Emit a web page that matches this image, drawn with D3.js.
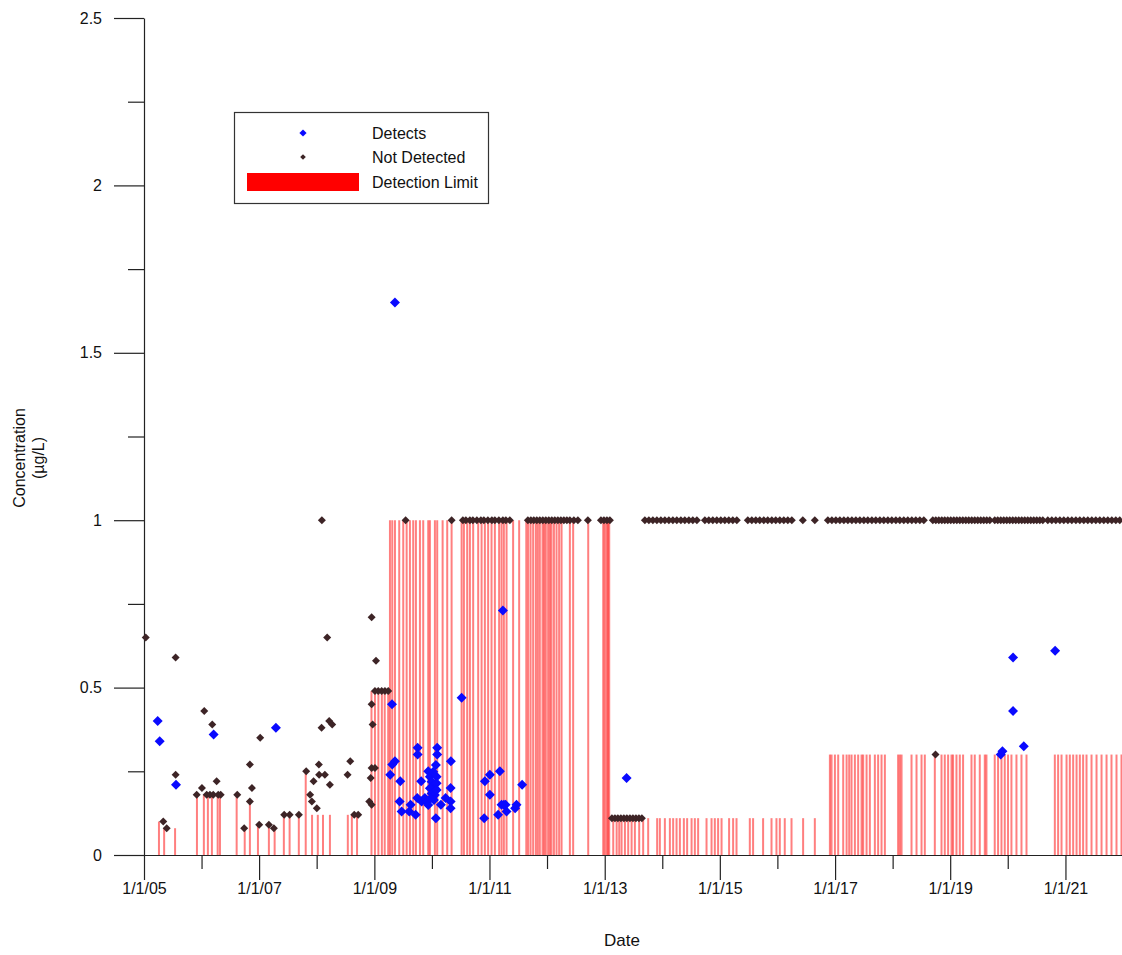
<!DOCTYPE html>
<html><head><meta charset="utf-8">
<script src="https://cdn.jsdelivr.net/npm/d3@7"></script>
<style>
body{margin:0;background:#fff}
svg{display:block}
text{font-family:"Liberation Sans",Arial,Helvetica,sans-serif;fill:#111}
</style></head>
<body><svg id="c" width="1122" height="955"></svg>
<script>
// ---- DATA (decimal year, concentration µg/L) ----
const yTicks = [0, 0.5, 1, 1.5, 2, 2.5];
const xTickYears = [2005, 2007, 2009, 2011, 2013, 2015, 2017, 2019, 2021];
const legendLabels = ["Detects", "Not Detected", "Detection Limit"];

const detects = [
 [2005.238,0.40],[2005.273,0.34],[2005.556,0.21],[2006.210,0.36],[2007.292,0.38],
 [2009.306,0.45],[2009.358,1.65],[2009.752,0.32],[2009.752,0.30],[2010.092,0.32],[2010.092,0.30],
 [2009.358,0.28],[2009.311,0.27],[2009.276,0.24],[2009.450,0.22],[2009.439,0.16],[2009.474,0.13],
 [2009.630,0.15],[2009.606,0.13],[2009.717,0.12],[2009.745,0.17],[2009.814,0.22],[2009.821,0.16],
 [2009.878,0.17],[2009.908,0.16],[2009.936,0.25],
 [2009.965,0.234],[2009.995,0.219],[2010.023,0.209],[2010.052,0.199],[2009.965,0.199],[2009.995,0.184],
 [2010.052,0.179],[2010.082,0.234],[2010.069,0.269],[2010.023,0.249],[2010.082,0.214],[2010.035,0.164],
 [2009.936,0.149],[2009.977,0.169],[2010.082,0.194],
 [2010.069,0.11],[2010.156,0.15],[2010.238,0.17],[2010.330,0.28],[2010.325,0.20],[2010.325,0.16],[2010.325,0.14],
 [2010.516,0.47],[2010.920,0.22],[2011.007,0.24],[2011.007,0.18],[2010.908,0.11],[2011.181,0.25],
 [2011.233,0.73],[2011.151,0.12],[2011.210,0.15],[2011.250,0.15],[2011.297,0.13],[2011.280,0.15],
 [2011.446,0.14],[2011.470,0.15],[2011.568,0.21],
 [2013.380,0.23],
 [2019.878,0.30],[2019.908,0.31],[2020.092,0.59],[2020.092,0.43],[2020.278,0.325],[2020.821,0.61]
];

const notDetected = [
 [2005.030,0.65],[2005.550,0.59],[2005.335,0.10],[2005.394,0.08],[2005.550,0.24],[2005.915,0.18],
 [2006.007,0.20],[2006.047,0.43],[2006.089,0.18],[2006.146,0.18],[2006.203,0.18],[2006.186,0.39],
 [2006.262,0.22],[2006.290,0.18],[2006.332,0.18],[2006.620,0.18],[2006.741,0.08],[2006.840,0.27],
 [2006.875,0.20],[2006.840,0.16],[2007.019,0.35],[2007.002,0.09],[2007.170,0.09],[2007.257,0.08],
 [2007.436,0.12],[2007.530,0.12],[2007.691,0.12],[2007.818,0.25],[2007.887,0.18],[2007.946,0.22],
 [2007.917,0.16],[2008.003,0.14],[2008.038,0.27],[2008.043,0.24],[2008.142,0.24],[2008.085,0.38],
 [2008.182,0.65],[2008.217,0.40],[2008.269,0.39],[2008.229,0.21],[2008.090,1.00],[2008.536,0.24],
 [2008.582,0.28],[2008.651,0.12],[2008.720,0.12],[2008.953,0.71],[2009.028,0.58],
 [2009.010,0.49],[2009.068,0.49],[2009.127,0.49],[2009.184,0.49],[2009.241,0.49],
 [2008.953,0.45],[2008.970,0.39],[2008.953,0.26],[2009.010,0.26],[2008.936,0.23],[2008.911,0.16],[2008.953,0.15],
 [2009.543,1],[2010.342,1],
 [2010.538,1],[2010.590,1],[2010.660,1],[2010.712,1],[2010.781,1],[2010.851,1],[2010.903,1],[2010.972,1],
 [2011.042,1],[2011.094,1],[2011.163,1],[2011.233,1],[2011.285,1],[2011.354,1],
 [2011.667,1],[2011.719,1],[2011.771,1],[2011.823,1],[2011.875,1],[2011.927,1],[2011.979,1],[2012.031,1],
 [2012.083,1],[2012.135,1],[2012.188,1],[2012.240,1],[2012.292,1],[2012.344,1],[2012.396,1],[2012.465,1],
 [2012.535,1],[2012.708,1],[2012.934,1],[2012.986,1],[2013.038,1],[2013.090,1],
 [2013.125,0.11],[2013.177,0.11],[2013.229,0.11],[2013.281,0.11],[2013.333,0.11],[2013.385,0.11],
 [2013.438,0.11],[2013.490,0.11],[2013.542,0.11],[2013.594,0.11],[2013.646,0.11],
 [2013.698,1],[2013.767,1],[2013.837,1],[2013.906,1],[2013.976,1],[2014.045,1],[2014.115,1],[2014.184,1],
 [2014.253,1],[2014.323,1],[2014.392,1],[2014.462,1],[2014.531,1],[2014.601,1],[2014.740,1],[2014.809,1],
 [2014.878,1],[2014.948,1],[2015.017,1],[2015.087,1],[2015.156,1],[2015.226,1],[2015.295,1],
 [2015.486,1],[2015.556,1],[2015.625,1],[2015.694,1],[2015.764,1],[2015.833,1],[2015.903,1],[2015.972,1],
 [2016.042,1],[2016.111,1],[2016.181,1],[2016.250,1],[2016.441,1],[2016.649,1],
 [2016.875,1],[2016.944,1],[2017.014,1],[2017.083,1],[2017.153,1],[2017.222,1],[2017.292,1],[2017.361,1],
 [2017.431,1],[2017.500,1],[2017.569,1],[2017.639,1],[2017.708,1],[2017.778,1],[2017.847,1],[2017.917,1],
 [2017.986,1],[2018.056,1],[2018.125,1],[2018.194,1],[2018.264,1],[2018.333,1],[2018.403,1],[2018.472,1],[2018.542,1],
 [2018.698,1],[2018.750,1],[2018.802,1],[2018.854,1],[2018.906,1],[2018.958,1],[2019.010,1],[2019.063,1],
 [2019.115,1],[2019.167,1],[2019.219,1],[2019.271,1],[2019.323,1],[2019.375,1],[2019.427,1],[2019.479,1],
 [2019.531,1],[2019.583,1],[2019.635,1],[2019.688,1],
 [2019.774,1],[2019.826,1],[2019.878,1],[2019.931,1],[2019.983,1],[2020.035,1],[2020.087,1],[2020.139,1],
 [2020.191,1],[2020.243,1],[2020.295,1],[2020.347,1],[2020.399,1],[2020.451,1],[2020.503,1],[2020.556,1],[2020.608,1],
 [2020.694,1],[2020.764,1],[2020.833,1],[2020.903,1],[2020.972,1],[2021.042,1],[2021.111,1],[2021.181,1],
 [2021.250,1],[2021.319,1],[2021.389,1],[2021.458,1],[2021.528,1],[2021.597,1],[2021.667,1],[2021.736,1],
 [2021.806,1],[2021.875,1],[2021.944,1],
 [2018.745,0.30]
];

const detectionLimit = [
 [2005.26,0.10],[2005.35,0.08],[2005.54,0.08],[2005.92,0.18],[2006.04,0.18],[2006.11,0.18],[2006.18,0.18],
 [2006.28,0.18],[2006.32,0.18],[2006.61,0.18],[2006.75,0.08],[2006.84,0.16],[2006.98,0.09],[2007.17,0.09],
 [2007.27,0.08],[2007.43,0.12],[2007.53,0.12],[2007.69,0.12],[2007.81,0.25],[2007.92,0.12],[2008.02,0.12],
 [2008.11,0.12],[2008.23,0.12],[2008.54,0.12],[2008.61,0.12],[2008.70,0.12],
 [2008.95,0.49],[2009.01,0.49],[2009.07,0.49],[2009.13,0.49],[2009.18,0.49],[2009.24,0.49],
 [2009.271,1],[2009.311,1],[2009.358,1],[2009.432,1],[2009.502,1],[2009.561,1],[2009.618,1],[2009.675,1],
 [2009.722,1],[2009.792,1],[2009.849,1],[2009.936,1],[2009.965,1],[2010.052,1],[2010.092,1],[2010.186,1],
 [2010.266,1],[2010.342,1],[2010.516,1],[2010.556,1],[2010.613,1],[2010.660,1],[2010.717,1],[2010.804,1],
 [2010.863,1],[2010.920,1],[2010.977,1],[2011.036,1],[2011.094,1],[2011.168,1],[2011.210,1],[2011.250,1],
 [2011.297,1],[2011.411,1],[2011.516,1],[2011.640,1],[2011.672,1],[2011.714,1],[2011.759,1],[2011.806,1],
 [2011.840,1],[2011.875,1],[2011.922,1],[2011.950,1],[2011.979,1],[2012.019,1],[2012.050,1],[2012.078,1],
 [2012.120,1],[2012.165,1],[2012.210,1],[2012.252,1],[2012.396,1],[2012.453,1],[2012.714,1],[2012.974,1],
 [2013.000,1],[2013.033,1],[2013.055,1],[2013.078,1],
 [2013.148,0.11],[2013.207,0.11],[2013.252,0.11],[2013.293,0.11],[2013.351,0.11],[2013.408,0.11],
 [2013.467,0.11],[2013.524,0.11],[2013.599,0.11],[2013.668,0.11],[2013.755,0.11],[2013.911,0.11],
 [2013.958,0.11],[2014.045,0.11],[2014.132,0.11],[2014.189,0.11],[2014.248,0.11],[2014.306,0.11],
 [2014.375,0.11],[2014.432,0.11],[2014.509,0.11],[2014.566,0.11],[2014.623,0.11],[2014.769,0.11],
 [2014.856,0.11],[2014.913,0.11],[2014.970,0.11],[2015.030,0.11],[2015.161,0.11],[2015.231,0.11],
 [2015.290,0.11],[2015.521,0.11],[2015.578,0.11],[2015.752,0.11],[2015.898,0.11],[2015.984,0.11],
 [2016.042,0.11],[2016.128,0.11],[2016.245,0.11],[2016.446,0.11],[2016.649,0.11],
 [2016.910,0.30],[2016.939,0.30],[2016.997,0.30],[2017.054,0.30],[2017.141,0.30],[2017.200,0.30],
 [2017.245,0.30],[2017.286,0.30],[2017.344,0.30],[2017.401,0.30],[2017.460,0.30],[2017.488,0.30],
 [2017.547,0.30],[2017.604,0.30],[2017.691,0.30],[2017.748,0.30],[2017.807,0.30],[2017.865,0.30],
 [2018.095,0.30],[2018.125,0.30],[2018.155,0.30],[2018.328,0.30],[2018.415,0.30],[2018.502,0.30],
 [2018.559,0.30],[2018.733,0.30],[2018.849,0.30],[2018.906,0.30],[2018.964,0.30],[2019.023,0.30],
 [2019.050,0.30],[2019.109,0.30],[2019.167,0.30],[2019.224,0.30],[2019.370,0.30],[2019.427,0.30],
 [2019.514,0.30],[2019.601,0.30],[2019.630,0.30],[2019.774,0.30],[2019.832,0.30],[2019.891,0.30],
 [2019.948,0.30],[2020.005,0.30],[2020.064,0.30],[2020.151,0.30],[2020.238,0.30],[2020.325,0.30],
 [2020.816,0.30],[2020.873,0.30],[2020.932,0.30],[2021.019,0.30],[2021.076,0.30],[2021.134,0.30],
 [2021.193,0.30],[2021.250,0.30],[2021.307,0.30],[2021.366,0.30],[2021.453,0.30],[2021.540,0.30],
 [2021.627,0.30],[2021.714,0.30],[2021.800,0.30],[2021.887,0.30],[2021.974,0.30]
];

// ---- helpers ----
function toDate(v){
  const yr = Math.floor(v);
  const a = new Date(yr,0,1).getTime(), b = new Date(yr+1,0,1).getTime();
  return new Date(a + (v-yr)*(b-a));
}

const svg = d3.select("#c");
const x = d3.scaleTime().domain([new Date(2005,0,1), new Date(2022,0,1)]).range([144, 1123]);
const y = d3.scaleLinear().domain([0, 2.5]).range([855, 18]);

// detection limit lines
svg.append("g").selectAll("line").data(detectionLimit).join("line")
  .attr("x1", d=>x(toDate(d[0]))).attr("x2", d=>x(toDate(d[0])))
  .attr("y1", y(0)).attr("y2", d=>y(d[1]))
  .attr("stroke", "#ff0000").attr("stroke-width", 2).attr("stroke-opacity", 0.5);

// axes
const fmt = d3.timeFormat("%-m/%-d/%y");
const xMajor = d3.axisBottom(x).tickValues(xTickYears.map(v=>new Date(v,0,1)))
  .tickFormat(fmt).tickSize(25).tickSizeOuter(0).tickPadding(3);
const gx = svg.append("g").attr("transform", `translate(0,${y(0)})`).call(xMajor);
const xMinor = d3.axisBottom(x).tickValues(xTickYears.map(v=>new Date(v+1,0,1)))
  .tickFormat("").tickSize(14).tickSizeOuter(0);
svg.append("g").attr("transform", `translate(0,${y(0)})`).call(xMinor).select(".domain").remove();

const yMajor = d3.axisLeft(y).tickValues(yTicks).tickFormat(d3.format("")).tickSize(30).tickSizeOuter(0).tickPadding(12);
const gy = svg.append("g").attr("transform", `translate(144,0)`).call(yMajor);
const yMinor = d3.axisLeft(y).tickValues(yTicks.slice(0,-1).map(v=>v+0.25)).tickFormat("").tickSize(16).tickSizeOuter(0);
svg.append("g").attr("transform", `translate(144,0)`).call(yMinor).select(".domain").remove();

svg.selectAll(".tick text").style("font-size","16px").style("font-family",'"Liberation Sans",Arial,sans-serif').attr("fill","#111");
svg.selectAll(".domain, .tick line").attr("stroke","#222").attr("stroke-width",1.2);

// axis titles
svg.append("text").attr("x", 622).attr("y", 946).attr("text-anchor","middle").style("font-size","17px").text("Date");
svg.append("text").attr("transform","translate(25,458) rotate(-90)").attr("text-anchor","middle").style("font-size","16px").text("Concentration");
svg.append("text").attr("transform","translate(44,458) rotate(-90)").attr("text-anchor","middle").style("font-size","16px").text("(µg/L)");

// markers
const diamond = r => `M0,${-r}L${r},0L0,${r}L${-r},0Z`;
svg.append("g").selectAll("path").data(notDetected).join("path")
  .attr("transform", d=>`translate(${x(toDate(d[0]))},${y(d[1])})`)
  .attr("d", diamond(4)).attr("fill", "#3d2426");
svg.append("g").selectAll("path").data(detects).join("path")
  .attr("transform", d=>`translate(${x(toDate(d[0]))},${y(d[1])})`)
  .attr("d", diamond(5)).attr("fill", "#0a0aff");

// legend
const lg = svg.append("g");
lg.append("rect").attr("x",234.5).attr("y",112.5).attr("width",254).attr("height",91)
  .attr("fill","#fff").attr("stroke","#333").attr("stroke-width",1.2);
lg.append("path").attr("transform","translate(303,133)").attr("d",diamond(3.6)).attr("fill","#0a0aff");
lg.append("path").attr("transform","translate(303,157)").attr("d",diamond(2.8)).attr("fill","#3d2426");
lg.append("rect").attr("x",247).attr("y",173).attr("width",112).attr("height",18).attr("fill","#ff0000");
legendLabels.forEach((t,i)=>{
  lg.append("text").attr("x",372).attr("y",[133,157,182][i]).attr("dy","0.35em").style("font-size","16px").text(t);
});
</script></body></html>
